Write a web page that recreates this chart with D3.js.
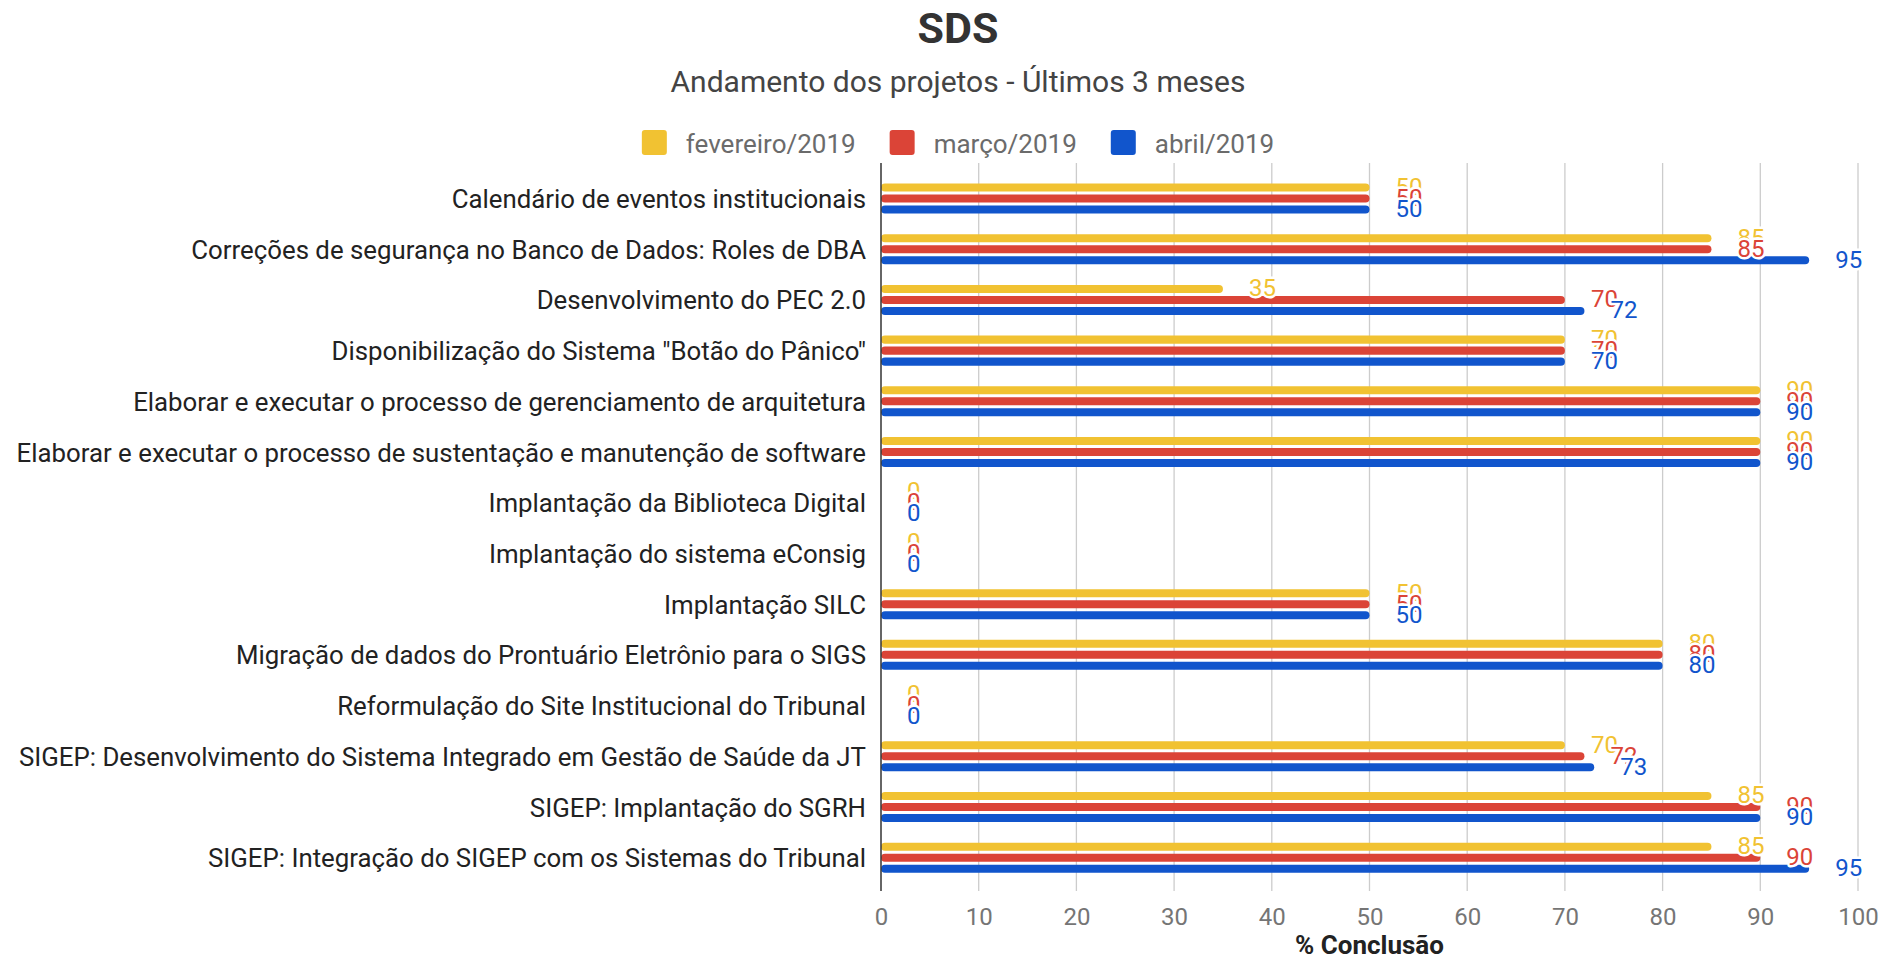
<!DOCTYPE html>
<html>
<head>
<meta charset="utf-8">
<script src="https://cdnjs.cloudflare.com/ajax/libs/d3/7.8.5/d3.min.js"></script>
<style>
  html, body { margin: 0; padding: 0; background: #fff; }
  svg { display: block; font-family: Roboto, "Noto Sans", sans-serif; }
</style>
</head>
<body>
<svg id="chart" width="1898" height="960"></svg>
<script>
const categories = [
  "Calendário de eventos institucionais",
  "Correções de segurança no Banco de Dados: Roles de DBA",
  "Desenvolvimento do PEC 2.0",
  "Disponibilização do Sistema \"Botão do Pânico\"",
  "Elaborar e executar o processo de gerenciamento de arquitetura",
  "Elaborar e executar o processo de sustentação e manutenção de software",
  "Implantação da Biblioteca Digital",
  "Implantação do sistema eConsig",
  "Implantação SILC",
  "Migração de dados do Prontuário Eletrônio para o SIGS",
  "Reformulação do Site Institucional do Tribunal",
  "SIGEP: Desenvolvimento do Sistema Integrado em Gestão de Saúde da JT",
  "SIGEP: Implantação do SGRH",
  "SIGEP: Integração do SIGEP com os Sistemas do Tribunal"
];
const seriesNames = ["fevereiro/2019", "março/2019", "abril/2019"];
const fevereiro = [50, 85, 35, 70, 90, 90, 0, 0, 50, 80, 0, 70, 85, 85];
const marco     = [50, 85, 70, 70, 90, 90, 0, 0, 50, 80, 0, 72, 90, 90];
const abril     = [50, 95, 72, 70, 90, 90, 0, 0, 50, 80, 0, 73, 90, 95];
const seriesValues = [fevereiro, marco, abril];
const seriesColors = ["#f1c232", "#db4437", "#1155cc"];
const xTicks = [0, 10, 20, 30, 40, 50, 60, 70, 80, 90, 100];
const titleText = "SDS";
const subtitleText = "Andamento dos projetos - Últimos 3 meses";
const xAxisTitle = "% Conclusão";

const svg = d3.select("#chart");
const W = 1898, H = 960;
svg.append("rect").attr("width", W).attr("height", H).attr("fill", "#fff");

const plotTop = 163, plotBottom = 891;
const x = d3.scaleLinear().domain([0, 100]).range([881, 1858]);
const y = d3.scaleBand().domain(categories).range([173.15, 883.05]).paddingInner(0).paddingOuter(0);
const ySub = d3.scaleBand().domain(seriesNames).range([-18, 18]).padding(0.2727);

const centerX = 958;

// Title
svg.append("text").attr("x", centerX).attr("y", 43).attr("text-anchor", "middle")
  .attr("font-size", 43).attr("font-weight", "bold").attr("fill", "#333").text(titleText);
svg.append("text").attr("x", centerX).attr("y", 91.5).attr("text-anchor", "middle")
  .attr("font-size", 30).attr("fill", "#444").text(subtitleText);

// Legend
const legend = svg.append("g");
const items = legend.selectAll("g").data(seriesNames).join("g");
items.append("rect").attr("width", 25).attr("height", 25).attr("rx", 3)
  .attr("y", 130).attr("fill", (d, i) => seriesColors[i]);
items.append("text").attr("x", 44).attr("y", 152.5).attr("font-size", 26)
  .attr("fill", "#6b6b6b").text(d => d);
let widths = [];
items.each(function () { widths.push(44 + d3.select(this).select("text").node().getComputedTextLength()); });
const gap = 34;
const total = d3.sum(widths) + gap * (widths.length - 1);
let cx = centerX - total / 2;
items.each(function (d, i) { d3.select(this).attr("transform", `translate(${cx},0)`); cx += widths[i] + gap; });

// Gridlines
svg.append("g").selectAll("line").data(xTicks.filter(t => t > 0)).join("line")
  .attr("x1", d => x(d)).attr("x2", d => x(d))
  .attr("y1", plotTop).attr("y2", plotBottom)
  .attr("stroke", "#cccccc").attr("stroke-width", 1.3);

// X tick labels via axis
const xAxis = d3.axisBottom(x).tickValues(xTicks).tickSize(0).tickPadding(0);
const gx = svg.append("g").attr("transform", `translate(0,${plotBottom})`).call(xAxis);
gx.select(".domain").remove();
gx.selectAll("text").attr("font-size", 24).attr("fill", "#757575")
  .attr("font-family", "Roboto, sans-serif").attr("dy", null).attr("y", 34);

// Y category labels via axis
const yAxis = d3.axisLeft(y).tickSize(0).tickPadding(0);
const gy = svg.append("g").attr("transform", `translate(866,0)`).call(yAxis);
gy.select(".domain").remove();
gy.selectAll("text").attr("font-size", 25.8).attr("fill", "#222")
  .attr("font-family", "Roboto, sans-serif").attr("dy", "0.37em").attr("x", 0);

// Bars
const groups = svg.append("g").selectAll("g").data(categories).join("g")
  .attr("transform", d => `translate(0,${y(d) + y.bandwidth() / 2})`);
groups.each(function (cat, ci) {
  const g = d3.select(this);
  seriesNames.forEach((s, si) => {
    const v = seriesValues[si][ci];
    if (v > 0) {
      g.append("rect").attr("x", x(0)).attr("y", ySub(s))
        .attr("width", x(v) - x(0)).attr("height", ySub.bandwidth())
        .attr("rx", 4).attr("fill", seriesColors[si]);
    }
  });
});

// Baseline
svg.append("line").attr("x1", x(0)).attr("x2", x(0)).attr("y1", plotTop).attr("y2", plotBottom)
  .attr("stroke", "#333").attr("stroke-width", 1.5);

// Data labels
groups.each(function (cat, ci) {
  const g = d3.select(this);
  seriesNames.forEach((s, si) => {
    const v = seriesValues[si][ci];
    g.append("text").attr("x", x(v) + 26).attr("y", ySub(s) + ySub.bandwidth() / 2)
      .attr("dy", "0.31em").attr("font-size", 24)
      .attr("fill", seriesColors[si]).attr("stroke", "#fff").attr("stroke-width", 5)
      .attr("paint-order", "stroke").attr("stroke-linejoin", "round").text(v);
  });
});

// X axis title
svg.append("text").attr("x", (x(0) + x(100)) / 2).attr("y", 954).attr("text-anchor", "middle")
  .attr("font-size", 26).attr("font-weight", "bold").attr("fill", "#222").text(xAxisTitle);
</script>
</body>
</html>
